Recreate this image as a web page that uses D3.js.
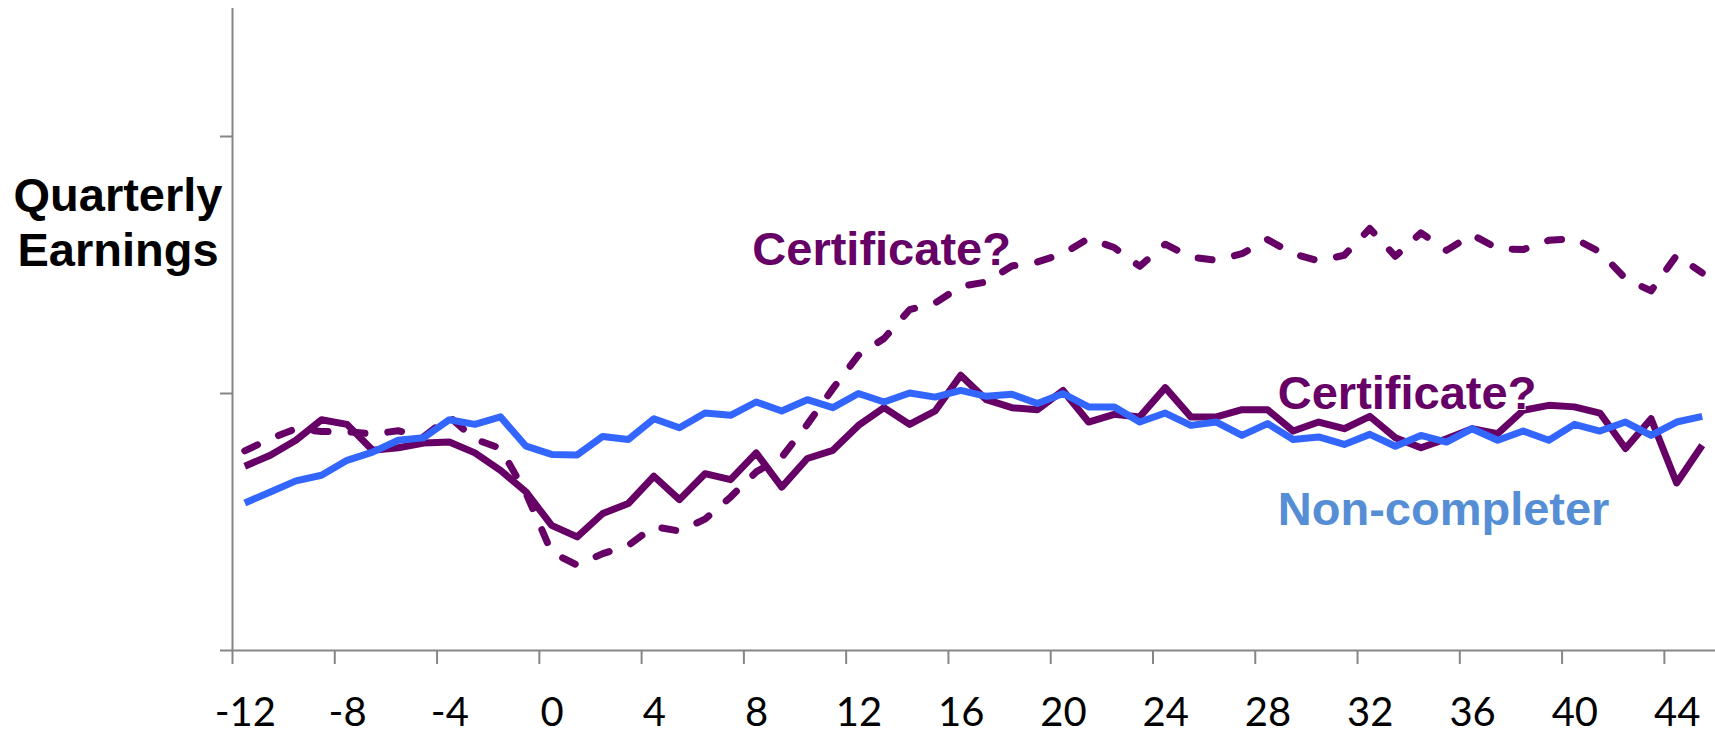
<!DOCTYPE html>
<meta charset="utf-8">
<title>Quarterly Earnings</title>
<style>
body {
  margin: 0;
  background: #fff;
}
.line {
  fill: none;
  stroke-linejoin: round;
  stroke-width: 7px;
}
.axis path, .axis line {
  stroke: #868686;
  stroke-width: 2px;
}
.tick text {
  font-family: Lato, "Liberation Sans", sans-serif;
  font-size: 40px;
  fill: #000;
}
.lab {
  font-family: "Liberation Sans", Arial, sans-serif;
  font-weight: bold;
  font-size: 47px;
}
</style>
<svg></svg>
<script src="https://cdnjs.cloudflare.com/ajax/libs/d3/7.8.5/d3.min.js"></script>
<script>
// quarters relative to program entry
var quarters = d3.range(-12, 46);
var tickQuarters = [-12, -8, -4, 0, 4, 8, 12, 16, 20, 24, 28, 32, 36, 40, 44];

// earnings, arbitrary units (axis is unlabelled)
var nonCompleter = [572, 615, 658, 680, 738, 770, 816, 826, 896, 878,
  907, 793, 761, 759, 831, 819, 900, 865, 922, 913,
  965, 930, 974, 943, 998, 965, 1000, 984, 1010, 987,
  995, 959, 998, 946, 946, 887, 922, 874, 887, 835,
  881, 819, 829, 800, 839, 793, 835, 809, 861, 816,
  852, 816, 878, 852, 887, 835, 887, 909];
var certSolid = [715, 758, 816, 896, 878, 777, 787, 805, 809, 767,
  699, 615, 485, 440, 531, 570, 676, 585, 686, 663,
  767, 634, 745, 777, 874, 943, 878, 930, 1069, 974,
  943, 935, 1010, 887, 917, 907, 1021, 907, 907, 935,
  935, 852, 887, 861, 909, 826, 787, 822, 861, 842,
  933, 952, 946, 922, 784, 900, 650, 797];
var certDashed = [775, 822, 861, 850, 850, 840, 853, 830, 908, 820,
  785, 610, 380, 330, 375, 407, 480, 463, 509, 595,
  693, 750, 878, 1017, 1147, 1212, 1324, 1350, 1415, 1432,
  1494, 1510, 1542, 1601, 1566, 1493, 1579, 1529, 1516, 1542,
  1597, 1542, 1514, 1536, 1640, 1532, 1623, 1555, 1616, 1562,
  1558, 1594, 1601, 1549, 1445, 1397, 1536, 1467];
var yTicks = [0, 1000, 2000];

var width = 1715, height = 730;
var purple = "#660066", blue = "#3366ff", labelBlue = "#558ed5";

var svg = d3.select("svg")
    .attr("width", width)
    .attr("height", height);

var x = d3.scaleLinear()
    .domain([-12.5, 45.5])
    .range([232, 1715]);
var y = d3.scaleLinear()
    .domain([0, 2500])
    .range([650, 7.5]);

// y axis, no labels
svg.append("g")
    .attr("class", "axis")
    .attr("transform", "translate(232,0)")
    .call(d3.axisLeft(y).tickValues(yTicks).tickFormat("").tickSize(12).tickSizeOuter(0));

// x axis: tick marks on category boundaries, labels on centres
svg.append("g")
    .attr("class", "axis")
    .attr("transform", "translate(0,650)")
    .call(d3.axisBottom(x).tickValues(tickQuarters.map(function(q) { return q - 0.5; }))
      .tickFormat("").tickSize(14).tickSizeOuter(0));
var xl = svg.append("g")
    .attr("transform", "translate(0,650)")
    .call(d3.axisBottom(x).tickValues(tickQuarters).tickFormat(function(d) { return String(d); })
      .tickSize(0).tickPadding(0));
xl.select(".domain").remove();
xl.selectAll("text").attr("dy", null).attr("y", 76);

var line = d3.line()
    .x(function(d, i) { return x(quarters[i]); })
    .y(function(d) { return y(d); });

svg.append("path")
    .datum(certDashed)
    .attr("class", "line")
    .attr("stroke", purple)
    .attr("stroke-dasharray", "14,23")
    .attr("stroke-linecap", "round")
    .attr("d", line);
svg.append("path")
    .datum(certSolid)
    .attr("class", "line")
    .attr("stroke", purple)
    .attr("d", line);
svg.append("path")
    .datum(nonCompleter)
    .attr("class", "line")
    .attr("stroke", blue)
    .attr("d", line);

// annotations
svg.append("text").attr("class", "lab")
    .attr("x", 118).attr("y", 211)
    .attr("text-anchor", "middle")
    .text("Quarterly");
svg.append("text").attr("class", "lab")
    .attr("x", 118).attr("y", 266)
    .attr("text-anchor", "middle")
    .text("Earnings");

svg.append("text").attr("class", "lab")
    .attr("x", x(7.85)).attr("y", y(1498))
    .attr("fill", purple)
    .text("Certificate?");
svg.append("text").attr("class", "lab")
    .attr("x", x(28.4)).attr("y", y(938))
    .attr("fill", purple)
    .attr("stroke", "#fff").attr("stroke-width", 2).attr("paint-order", "stroke")
    .text("Certificate?");
svg.append("text").attr("class", "lab")
    .attr("x", x(28.4)).attr("y", y(486))
    .attr("fill", labelBlue)
    .text("Non-completer");
</script>
